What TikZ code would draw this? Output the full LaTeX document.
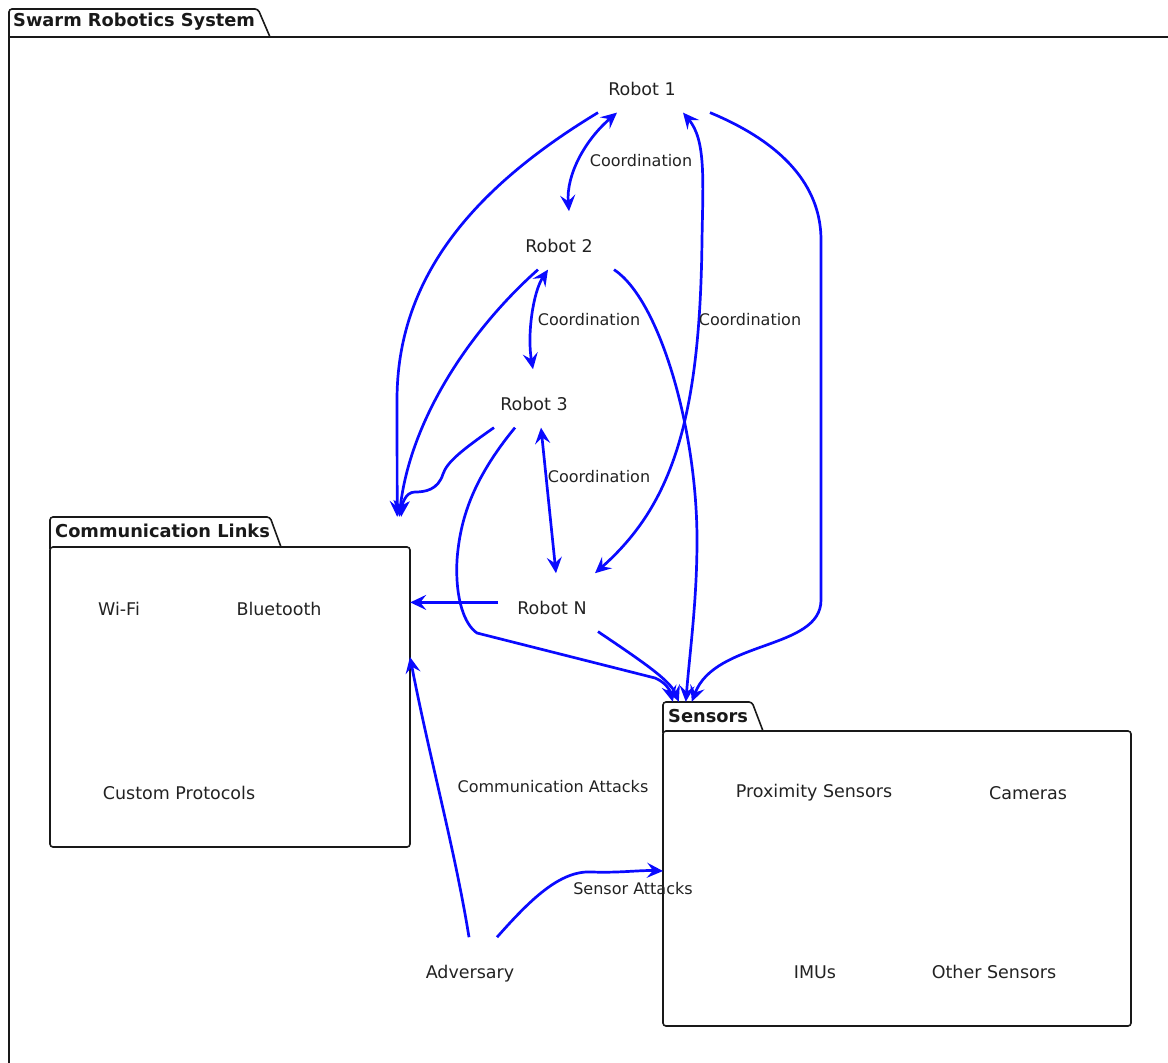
\documentclass[tikz,border=0pt]{standalone}
\usepackage{fontspec}
\setmainfont{DejaVu Sans}
\usetikzlibrary{arrows.meta,calc}
\definecolor{edgeblue}{RGB}{10,10,255}
\definecolor{txt}{RGB}{34,34,34}
\tikzset{
  robot/.style={inner ysep=0pt, inner xsep=19pt, text height=41pt, text depth=17pt, font=\fontsize{17.5}{21}\selectfont, text=txt},
  item/.style={font=\fontsize{17.5}{21}\selectfont, text=txt, inner sep=0pt},
  elabel/.style={font=\fontsize{16}{19}\selectfont, text=txt, inner sep=0pt},
  ptitle/.style={font=\bfseries\fontsize{17.8}{21}\selectfont, anchor=west, inner sep=0pt, text=black!90},
  pkg/.style={draw=black!90, line width=1.6pt},
  conn/.style={draw=edgeblue, line width=2.7pt, -{Stealth[length=16pt,width=15pt,inset=6pt]}},
  biconn/.style={draw=edgeblue, line width=2.7pt, {Stealth[length=16pt,width=15pt,inset=6pt]}-{Stealth[length=16pt,width=15pt,inset=6pt]}},
  area/.style={inner sep=0pt, draw=none}
}
\begin{document}
\begin{tikzpicture}[x=1pt,y=-1pt]
\useasboundingbox (0,0) rectangle (1168,1063);
% outer package
\draw[pkg, rounded corners=3pt] (9,1075) -- (9,9) -- (258,9) -- (270,37);
\draw[pkg] (9,37) -- (1175,37);
\node[ptitle] (systitle) at (13,22) {Swarm Robotics System};

% communication links package
\node[area, minimum width=360pt, minimum height=330pt] (comm) at (230,682) {};
\draw[pkg, rounded corners=3pt] (50,547) rectangle (410,847);
\draw[pkg, rounded corners=3pt] (50,549) -- (50,517) -- (270,517) -- (281,547);
\node[ptitle] (commtitle) at (55,531) {Communication Links};
\node[item] (wifi) at (119,609) {Wi-Fi};
\node[item] (bt) at (279,609) {Bluetooth};
\node[item] (custom) at (179,793) {Custom Protocols};

% sensors package
\node[area, minimum width=468pt, minimum height=324pt] (sens) at (897,864) {};
\draw[pkg, rounded corners=3pt] (663,731) rectangle (1131,1026);
\draw[pkg, rounded corners=3pt] (663,733) -- (663,702) -- (752,702) -- (763,731);
\node[ptitle] (senstitle) at (668,716) {Sensors};
\node[item] (prox) at (814,793) {Proximity Sensors};
\node[item] (cam) at (1028,793) {Cameras};
\node[item] (imu) at (815,972) {IMUs};
\node[item] (other) at (994,972) {Other Sensors};

% robots
\node[robot, anchor=base] (r1) at (642,95.4) {Robot 1};
\node[robot, anchor=base] (r2) at (559,252.4) {Robot 2};
\node[robot, anchor=base] (r3) at (534,410.4) {Robot 3};
\node[robot, anchor=base] (rn) at (552,614.4) {Robot N};
\node[robot, anchor=base] (adv) at (470,978.4) {Adversary};

% coordination links
\draw[biconn] ([xshift=-25pt]r1.south) .. controls (585,140) and (566,175) .. ([xshift=10pt]r2.north);
\node[elabel] (l12) at (641,161) {Coordination};
\draw[biconn] ([xshift=-11pt]r2.south) .. controls (533,292) and (527,335) .. ([xshift=-1pt]r3.north);
\node[elabel] (l23) at (589,320) {Coordination};
\draw[biconn] ([xshift=7pt]r3.south) -- ([xshift=4pt]rn.north);
\node[elabel] (l3n) at (599,477) {Coordination};
\draw[biconn] ([xshift=41pt]r1.south) .. controls (706,140) and (703,180) .. (702,240) .. controls (700,420) and (672,505) .. ([xshift=43pt]rn.north);
\node[elabel] (l1n) at (750,320) {Coordination};

% robots to communication links
\draw[conn] ([xshift=-44pt]r1.south) .. controls (470,190) and (397,280) .. (397,400) -- ([xshift=-13pt]comm.north east);
\draw[conn] ([xshift=-21pt]r2.south) .. controls (470,330) and (410,420) .. ([xshift=-11pt]comm.north east);
\draw[conn] ([xshift=-40pt]r3.south) .. controls (462,450) and (447,462) .. (443,474) .. controls (438,490) and (425,492) .. (415,492) .. controls (405,492) and (402,505) .. ([xshift=-9pt]comm.north east);
\draw[conn] (rn.west) -- (rn.west -| comm.east);

% robots to sensors
\draw[conn] ([xshift=-19pt]r3.south) .. controls (472,480) and (460,520) .. (457,560) .. controls (455,600) and (465,625) .. (477,633) -- (655,678) .. controls (665,682) and (670,690) .. ([xshift=10pt]sens.north west);
\draw[conn] ([xshift=55pt]r2.south) .. controls (660,300) and (697,430) .. (697,540) .. controls (697,600) and (690,650) .. ([xshift=23pt]sens.north west);
\draw[conn] ([xshift=46pt]rn.south) .. controls (640,660) and (670,680) .. ([xshift=16pt]sens.north west);
\draw[conn] ([xshift=68pt]r1.south) .. controls (800,150) and (821,200) .. (821,240) -- (821,600) .. controls (821,650) and (715,640) .. ([xshift=29pt]sens.north west);

% adversary
\draw[conn] ([xshift=-1pt]adv.north) .. controls (455,850) and (430,760) .. (410,657);
\node[elabel] (lca) at (553,787) {Communication Attacks};
\draw[conn] ([xshift=27pt]adv.north) .. controls (530,900) and (560,870) .. (592,872) .. controls (620,873) and (640,870) .. (663,871);
\node[elabel] (lsa) at (633,889) {Sensor Attacks};
\end{tikzpicture}
\end{document}
